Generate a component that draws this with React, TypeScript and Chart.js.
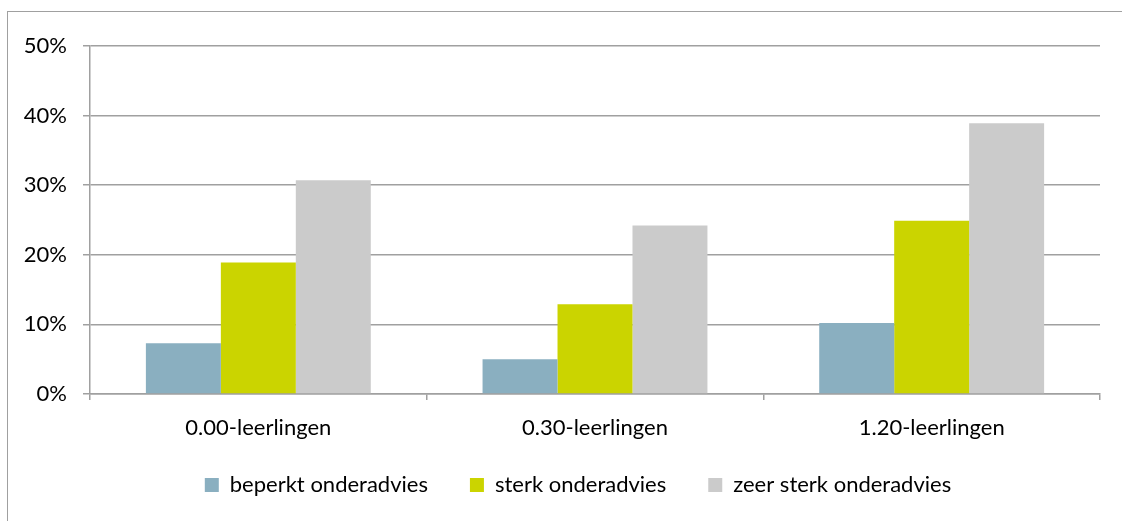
import React, { useEffect, useRef } from "react";
import { Chart, registerables } from "chart.js";

Chart.register(...registerables);

const categories = ["0.00-leerlingen", "0.30-leerlingen", "1.20-leerlingen"];
const seriesNames = ["beperkt onderadvies", "sterk onderadvies", "zeer sterk onderadvies"];
const beperkt = [7.3, 5.0, 10.2];
const sterk = [18.9, 12.9, 24.9];
const zeerSterk = [30.7, 24.2, 38.9];
const colors = ["#8AAFC0", "#CBD400", "#CBCBCB"];
const yTicks = [0, 10, 20, 30, 40, 50];

const FONT = "Lato";
const GRID = "#a0a0a0";

const legendShift = {
  id: "legendShift",
  afterLayout(chart: any) {
    const lg = chart.legend;
    if (!lg) return;
    lg.top -= 10;
    lg.bottom -= 10;
    lg.left += 28;
    lg.right += 28;
  },
};

export default function App() {
  const ref = useRef<HTMLCanvasElement | null>(null);

  useEffect(() => {
    document.body.style.margin = "0";
    const canvas = ref.current;
    if (!canvas) return;
    const chart = new Chart(canvas, {
      type: "bar",
      data: {
        labels: categories,
        datasets: [beperkt, sterk, zeerSterk].map((d, i) => ({
          label: seriesNames[i],
          data: d,
          backgroundColor: colors[i],
          borderWidth: 0,
          barPercentage: 1,
          categoryPercentage: 0.668,
        })),
      },
      plugins: [legendShift],
      options: {
        animation: false,
        responsive: false,
        maintainAspectRatio: false,
        layout: { padding: { left: 0, right: 22, top: 46, bottom: 5 } },
        plugins: {
          tooltip: { enabled: false },
          legend: {
            position: "bottom",
            labels: {
              boxWidth: 14,
              boxHeight: 14,
              padding: 42,
              color: "#000",
              font: { family: FONT, size: 22 },
            },
          },
        },
        scales: {
          x: {
            afterFit: (s: any) => { s.height = 48; },
            grid: {
              display: true,
              drawOnChartArea: false,
              drawTicks: true,
              tickLength: 6,
              color: GRID,
              lineWidth: 1.5,
            },
            border: { display: true, color: GRID, width: 1.5 },
            ticks: {
              color: "#000",
              padding: 15,
              font: { family: FONT, size: 22 },
              maxRotation: 0,
            },
          },
          y: {
            min: 0,
            max: 50,
            afterFit: (s: any) => { s.width = 90; },
            afterBuildTicks: (s: any) => { s.ticks = yTicks.map((v) => ({ value: v })); },
            grid: {
              color: GRID,
              lineWidth: 1.5,
              tickLength: 7,
            },
            border: { display: true, color: GRID, width: 1.5 },
            ticks: {
              color: "#000",
              padding: 16,
              font: { family: FONT, size: 22 },
              callback: (v: any) => v + "%",
            },
          },
        },
      },
    });
    return () => chart.destroy();
  }, []);

  return (
    <div style={{ position: "relative", width: 1122, height: 521, overflow: "hidden", background: "#fff" }}>
      <div
        style={{
          position: "absolute",
          left: 7,
          top: 11,
          width: 1200,
          height: 600,
          border: "1px solid #a0a0a0",
        }}
      />
      <canvas ref={ref} width={1122} height={521} style={{ position: "absolute", left: 0, top: 0 }} />
    </div>
  );
}
